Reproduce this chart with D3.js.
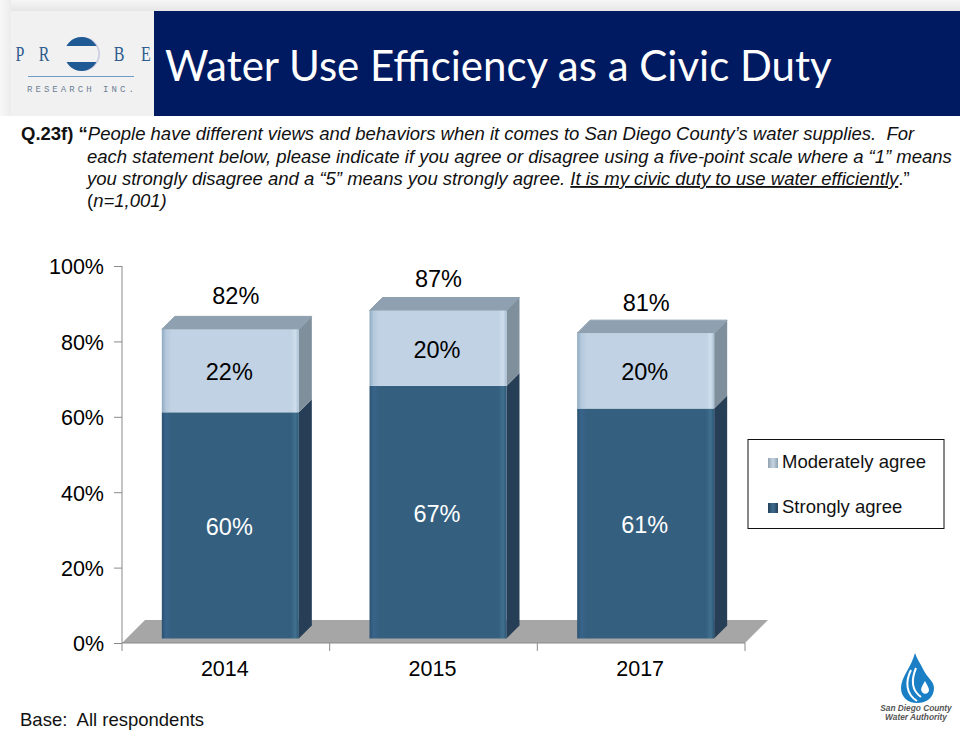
<!DOCTYPE html>
<html><head><meta charset="utf-8">
<script src="https://cdn.jsdelivr.net/npm/d3@7"></script>
<style>html,body{margin:0;padding:0;background:#fff;overflow:hidden}svg{display:block}text{font-family:"Liberation Sans",Arial,sans-serif}</style>
</head><body><svg id="c" width="960" height="730"></svg>
<script>
const categories = ["2014","2015","2017"];
const strongly = [60,67,61];
const moderately = [22,20,20];
const totals = [82,87,81];
const yTicks = [0,20,40,60,80,100];
const legendItems = ["Moderately agree","Strongly agree"];
const questionLines = [
 [{t:"Q.23f) ",b:1},{t:"“",b:1},{t:"People have different views and behaviors when it comes to San Diego County’s water supplies.  For",i:1}],
 [{t:"each statement below, please indicate if you agree or disagree using a five-point scale where a “1” means",i:1}],
 [{t:"you strongly disagree and a “5” means you strongly agree. ",i:1},{t:"It is my civic duty to use water efficiently",i:1,u:1},{t:".”"}],
 [{t:"("},{t:"n=1,001)",i:1}]
];
const svg = d3.select("#c");
const defs = svg.append("defs");
function hGrad(id,stops){const g=defs.append("linearGradient").attr("id",id);stops.forEach(s=>g.append("stop").attr("offset",s[0]).attr("stop-color",s[1]));}
hGrad("dark",[[0,"#2b5372"],[.03,"#39648a"],[.07,"#355f7f"],[.94,"#355f7f"],[.975,"#40708f"],[1,"#2d5675"]]);
hGrad("light",[[0,"#8fa9c0"],[.03,"#b4c9dd"],[.07,"#c0d2e3"],[.94,"#c0d2e3"],[.975,"#cfdeec"],[1,"#a9bfd4"]]);
hGrad("swL",[[0,"#8fa1b0"],[.5,"#c8d6e3"],[1,"#8fa1b0"]]);
hGrad("swD",[[0,"#24405a"],[.5,"#3f6c8e"],[1,"#24405a"]]);
const t0=defs.append("linearGradient").attr("id","edgeT").attr("x1",0).attr("x2",0).attr("y1",0).attr("y2",1);
t0.append("stop").attr("offset",0).attr("stop-color","#f6f6f6");t0.append("stop").attr("offset",1).attr("stop-color","#e6e6e6");
const t1=defs.append("linearGradient").attr("id","edgeL");
t1.append("stop").attr("offset",0).attr("stop-color","#f8f8f8");t1.append("stop").attr("offset",1).attr("stop-color","#ececec");

// header
svg.append("rect").attr("x",0).attr("y",0).attr("width",960).attr("height",11).attr("fill","url(#edgeT)");
svg.append("rect").attr("x",0).attr("y",0).attr("width",11).attr("height",116).attr("fill","url(#edgeL)");
svg.append("rect").attr("x",11).attr("y",11).attr("width",143).attr("height",105).attr("fill","#f1f1f1");
svg.append("rect").attr("x",154).attr("y",11).attr("width",806).attr("height",105).attr("fill","#001a62");
svg.append("text").attr("x",165).attr("y",81).attr("fill","#fff").style("font-family","Lato").attr("font-size",42).text("Water Use Efficiency as a Civic Duty");
// probe logo
const lg=svg.append("g");
[["P",20],["R",44],["B",119],["E",146]].forEach(d=>lg.append("text").attr("transform",`translate(${d[1]},61) scale(.8,1.1)`).attr("text-anchor","middle").style("font-family","Liberation Serif").attr("font-size",20).attr("fill","#2d5c8e").text(d[0]));
lg.append("circle").attr("cx",83).attr("cy",54).attr("r",17).attr("fill","#cfcfe4");
lg.append("circle").attr("cx",81.5).attr("cy",54).attr("r",17).attr("fill","#1f5a94");
lg.append("rect").attr("x",64).attr("y",46).attr("width",36).attr("height",16).attr("fill","#f1f1f1");
lg.append("path").attr("d","M98 46 A17 17 0 0 1 98 62 L96 62 A16 16 0 0 0 96 46Z").attr("fill","#cfcfe4");
lg.append("rect").attr("x",28).attr("y",76).attr("width",106).attr("height",1).attr("fill","#6f9bc9");
lg.append("text").attr("x",27).attr("y",92).style("font-family","Liberation Mono").attr("font-size",9).attr("letter-spacing",3.05).attr("fill","#6d7f95").text("RESEARCH INC.");

// question
const qx=[21,87,87,87], qy=[140,163,185,207];
questionLines.forEach((line,i)=>{
 const t=svg.append("text").attr("x",qx[i]).attr("y",qy[i]).attr("font-size",18.5).attr("fill","#111").attr("xml:space","preserve").style("white-space","pre");
 line.forEach(s=>t.append("tspan").attr("font-weight",s.b?"bold":null).attr("font-style",s.i?"italic":null).attr("text-decoration",s.u?"underline":null).text(s.t));
});

// scales
const y=d3.scaleLinear().domain([0,100]).range([643,266]);
const x=d3.scaleBand().domain(categories).range([122,745]);
const depth=13, lift=4.5, barW=137, floorDx=23, floorDy=23;
const barX=c=>x(c)+x.bandwidth()/2-barW/2+4.5;
const fy=v=>y(v)-lift;

// floor
svg.append("path").attr("d",`M${x.range()[0]} ${y(0)} L${x.range()[0]+floorDx} ${y(0)-floorDy} L${x.range()[1]+floorDx} ${y(0)-floorDy} L${x.range()[1]} ${y(0)} Z`).attr("fill","#a6a6a6");

// axes
const axL=svg.append("g").attr("transform","translate(122,0)").call(d3.axisLeft(y).tickValues(yTicks).tickFormat(d=>d+"%").tickSize(8).tickPadding(10));
const axB=svg.append("g").attr("transform",`translate(0,${y(0)})`).call(d3.axisBottom(x).tickSize(8).tickPadding(10));
axB.selectAll(".tick line").attr("transform",`translate(${x.bandwidth()/2},0)`);
svg.append("line").attr("x1",122).attr("x2",122).attr("y1",y(0)).attr("y2",y(0)+8).attr("stroke","#8a8a8a");
[axL,axB].forEach(a=>{a.selectAll("path,line").attr("stroke","#8a8a8a");a.selectAll("text").attr("font-size",21.5).attr("fill","#000").style("font-family","Liberation Sans");a.select("path.domain").attr("d",a===axL?"M0,266V643":"M122,0H745");});
axL.selectAll("text").attr("dy","0.37em");
axB.selectAll("text").attr("dx",-1);

// bars
const totalDx=[6.5,1.5,1.5];
categories.forEach((c,i)=>{
 const g=svg.append("g"), X=barX(c), a=fy(0), b=fy(strongly[i]), t=fy(totals[i]);
 g.append("path").attr("d",`M${X+barW} ${a} l${depth} ${-depth} L${X+barW+depth} ${b-depth} L${X+barW} ${b} Z`).attr("fill","#263f57");
 g.append("path").attr("d",`M${X+barW} ${b} l${depth} ${-depth} L${X+barW+depth} ${t-depth} L${X+barW} ${t} Z`).attr("fill","#7f8f9b");
 g.append("path").attr("d",`M${X} ${t} l${depth} ${-depth} h${barW} l${-depth} ${depth} Z`).attr("fill","#8fa1b0").attr("stroke","#8fa1b0").attr("stroke-width",1).attr("stroke-linejoin","round");
 g.append("rect").attr("x",X).attr("y",b).attr("width",barW).attr("height",a-b).attr("fill","url(#dark)");
 g.append("rect").attr("x",X).attr("y",t).attr("width",barW).attr("height",b-t).attr("fill","url(#light)");
 const cx=X+barW/2-1;
 const lab=(v,yy,col,dx)=>g.append("text").attr("x",cx+(dx||0)).attr("y",yy).attr("text-anchor","middle").attr("font-size",23.5).attr("fill",col).text(v+"%");
 lab(strongly[i],[535,522,533][i],"#fff");
 lab(moderately[i],[380,358,380][i],"#000");
 lab(totals[i],[304,287,311][i],"#000",totalDx[i]);
});

// legend
svg.append("rect").attr("x",748).attr("y",439.5).attr("width",196).attr("height",89).attr("fill","#fff").attr("stroke","#111").attr("stroke-width",1);
const swFill=["url(#swL)","url(#swD)"];
legendItems.forEach((d,i)=>{
 const yy=[463,508][i];
 svg.append("rect").attr("x",768).attr("y",yy-5).attr("width",10).attr("height",10).attr("fill",swFill[i]);
 svg.append("text").attr("x",782).attr("y",yy+5).attr("font-size",18.5).attr("fill","#111").text(d);
});

// base note
svg.append("text").attr("x",20).attr("y",726).attr("font-size",18.5).attr("fill","#111").attr("xml:space","preserve").style("white-space","pre").text("Base:  All respondents");

// water authority logo
const w=svg.append("g");
w.append("path").attr("d","M915 653 C911 668 901 677 901 688 C901 697 908 703 917 703 C927 703 934 697 934 688 C934 681 927 678 923 669 C920 663 917 659 915 653Z").attr("fill","#1a7fc4");
w.append("path").attr("d","M911 670 C905 682 906 694 917 701").attr("fill","none").attr("stroke","#fff").attr("stroke-width",2);
w.append("path").attr("d","M916 668 C911 680 911 690 921 697").attr("fill","none").attr("stroke","#fff").attr("stroke-width",2);
w.append("path").attr("d","M925 681 C922 686 920 689 922 692 C924 695 929 694 929 690 C929 688 927 685 925 681Z").attr("fill","#fff");
[["San Diego County",711],["Water Authority",720]].forEach(d=>w.append("text").attr("x",916).attr("y",d[1]).attr("text-anchor","middle").attr("font-size",8.3).attr("font-weight","bold").attr("font-style","italic").attr("fill","#555").text(d[0]));
</script></body></html>
